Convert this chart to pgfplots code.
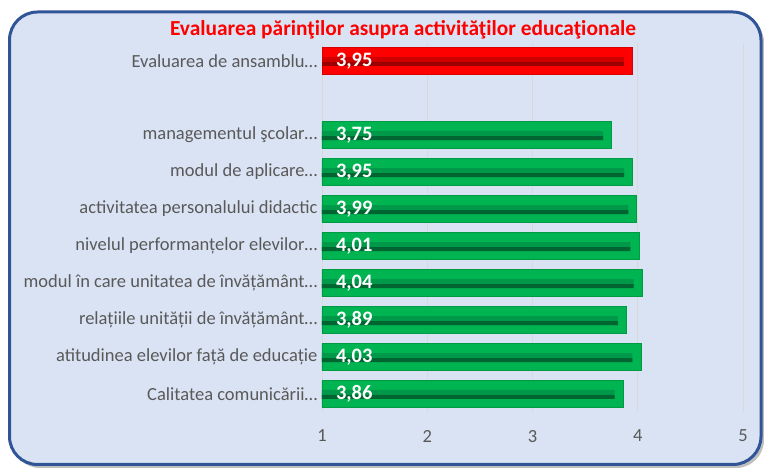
\documentclass[border=0pt]{standalone}
\usepackage{fontspec}
\setmainfont{Carlito}
\usepackage{pgfplots}
\pgfplotsset{compat=1.18}
\usepackage{pgfplotstable}

\definecolor{bg}{HTML}{DAE3F3}
\definecolor{framec}{HTML}{2F5597}
\definecolor{grn}{HTML}{00B452}
\definecolor{grnm}{HTML}{00994A}
\definecolor{grnd}{HTML}{006530}
\definecolor{grnb}{HTML}{009A45}
\definecolor{rd}{HTML}{FF0000}
\definecolor{rdm}{HTML}{D00000}
\definecolor{rdd}{HTML}{9A0000}
\definecolor{rdb}{HTML}{D80000}
\definecolor{txt}{HTML}{595959}
\definecolor{gridc}{HTML}{D9D9D9}

\pgfplotstableread{
pos val stripe
7 3.75 3.67
6 3.95 3.87
5 3.99 3.91
4 4.01 3.93
3 4.04 3.96
2 3.89 3.81
1 4.03 3.95
0 3.86 3.78
}\green

\pgfplotstableread{
pos val stripe
9 3.95 3.87
}\red

\pgfplotstableread{
pos val
9 3.95
7 3.75
6 3.95
5 3.99
4 4.01
3 4.04
2 3.89
1 4.03
0 3.86
}\labels

\begin{document}
\begin{tikzpicture}[x=1pt,y=1pt]
\path (0,0) rectangle (764,469);
\fill[black!25, rounded corners=28pt] (12,1) rectangle (764,454.5);
\draw[framec, line width=3pt, fill=bg, rounded corners=28pt] (9.5,4.5) rectangle (761,457);
\node[text=rd, font=\fontsize{21.4}{24}\selectfont\bfseries] at (403,439) {Evaluarea părinţilor asupra activităţilor educaţionale};
\begin{axis}[
  at={(322pt,56.5pt)}, anchor=south west,
  width=421pt, height=370pt, scale only axis,
  xmin=1, xmax=5, ymin=-0.5, ymax=9.5,
  axis line style={draw=none},
  xtick={1,2,3,4,5},
  xmajorgrids, grid style={gridc, line width=0.8pt},
  major tick length=0pt,
  tick style={draw=none},
  /pgf/number format/assume math mode=true,
  ytick={0,1,2,3,4,5,6,7,9},
  yticklabels={Calitatea comunicării…, atitudinea elevilor față de educație, relațiile unității de învățământ…, modul în care unitatea de învățământ…, nivelul performanțelor elevilor…, activitatea personalului didactic, modul de aplicare…, managementul şcolar…, Evaluarea de ansamblu…},
  ticklabel style={font=\fontsize{18.5}{21}\selectfont, text=txt},
  xticklabel style={yshift=-14pt},
  yticklabel style={xshift=-1pt},
  clip=true,
]
\addplot[xbar, bar width=26.5pt, bar shift=0pt, fill=grn, draw=grnb, line width=0.6pt] table[x=val, y=pos] {\green};
\addplot[xbar, bar width=9pt, bar shift=-0.5pt, fill=grnm, draw=none] table[x=stripe, y=pos] {\green};
\addplot[xbar, bar width=4pt, bar shift=-3pt, fill=grnd, draw=none] table[x=stripe, y=pos] {\green};
\addplot[xbar, bar width=26.5pt, bar shift=0pt, fill=rd, draw=rdb, line width=0.6pt] table[x=val, y=pos] {\red};
\addplot[xbar, bar width=9pt, bar shift=-0.5pt, fill=rdm, draw=none] table[x=stripe, y=pos] {\red};
\addplot[xbar, bar width=4pt, bar shift=-3pt, fill=rdd, draw=none] table[x=stripe, y=pos] {\red};
\addplot[draw=none, mark=none, nodes near coords, point meta=explicit,
  nodes near coords style={anchor=west, text=white, font=\fontsize{20.5}{23}\selectfont\bfseries,
    /pgf/number format/.cd, use comma, fixed, fixed zerofill, precision=2, assume math mode=true}]
  table[x expr=1.1, y=pos, meta=val] {\labels};
\end{axis}
\end{tikzpicture}
\end{document}
